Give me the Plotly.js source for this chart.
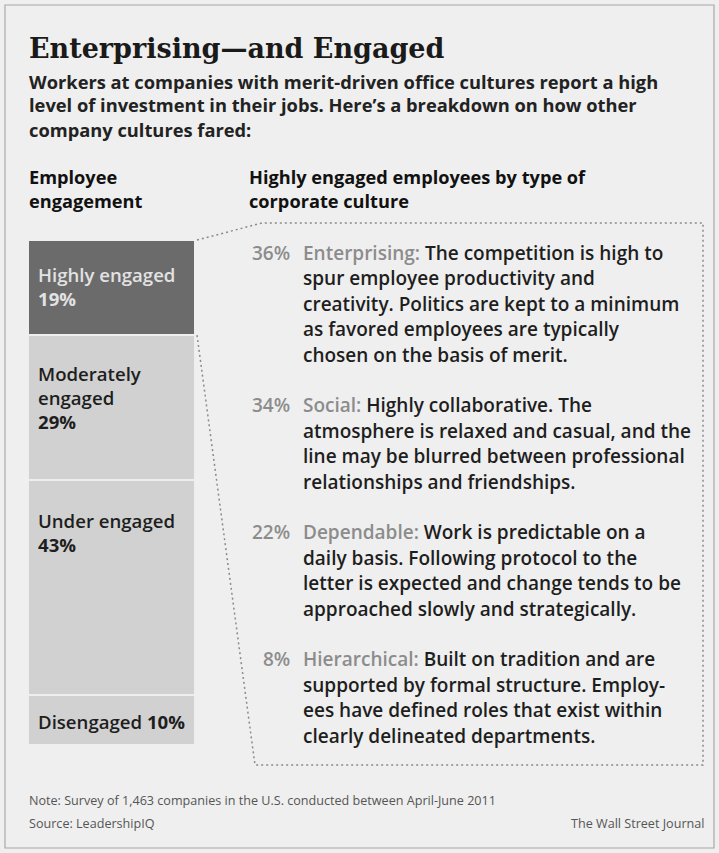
<!DOCTYPE html>
<html>
<head>
<meta charset="utf-8">
<script src="https://cdn.plot.ly/plotly-3.0.1.min.js"></script>
<style>
  html, body { margin: 0; padding: 0; background: #efefef; }
  #chart { width: 719px; height: 853px; }
</style>
</head>
<body>
<div id="chart"></div>
<script>
// ---------- data ----------
const engagementLevels = ['Highly engaged', 'Moderately engaged', 'Under engaged', 'Disengaged'];
const engagementShares = [19, 29, 43, 10];
const engagementLabelLines = [
  ['Highly engaged'],
  ['Moderately', 'engaged'],
  ['Under engaged'],
  ['Disengaged']
];
const cultureTypes = ['Enterprising', 'Social', 'Dependable', 'Hierarchical'];
const cultureShares = [36, 34, 22, 8];
const cultureDescriptions = [
  ['The competition is high to', 'spur employee productivity and', 'creativity. Politics are kept to a minimum', 'as favored employees are typically', 'chosen on the basis of merit.'],
  ['Highly collaborative. The', 'atmosphere is relaxed and casual, and the', 'line may be blurred between professional', 'relationships and friendships.'],
  ['Work is predictable on a', 'daily basis. Following protocol to the', 'letter is expected and change tends to be', 'approached slowly and strategically.'],
  ['Built on tradition and are', 'supported by formal structure. Employ-', 'ees have defined roles that exist within', 'clearly delineated departments.']
];
const titleText = 'Enterprising\u2014and Engaged';
const subtitleLines = [
  'Workers at companies with merit-driven office cultures report a high',
  'level of investment in their jobs. Here\u2019s a breakdown on how other',
  'company cultures fared:'
];
const leftHeadingLines = ['Employee', 'engagement'];
const rightHeadingLines = ['Highly engaged employees by type of', 'corporate culture'];
const noteText = 'Note: Survey of 1,463 companies in the U.S. conducted between April-June 2011';
const sourceText = 'Source: LeadershipIQ';
const creditText = 'The Wall Street Journal';

// ---------- layout helpers ----------
const W = 719, H = 853;
const px = x => x / W;
const py = y => 1 - y / H;
const SANS = 'Open Sans, Liberation Sans, sans-serif';
const total = engagementShares.reduce((a, b) => a + b, 0);

const traces = engagementLevels.map((lvl, i) => ({
  type: 'bar',
  x: [0],
  y: [engagementShares[i]],
  name: lvl,
  width: 1,
  marker: { color: i === 0 ? '#6b6b6b' : '#d1d1d1', line: { color: '#eeeeee', width: 1.5 } },
  hoverinfo: 'skip',
  showlegend: false
}));

const annotations = [];
function txt(x, y, text, opts) {
  annotations.push(Object.assign({
    xref: 'paper', yref: 'paper', x: px(x), y: py(y), text: text,
    showarrow: false, xanchor: 'left', yanchor: 'middle', align: 'left',
    font: { family: SANS, size: 19, color: '#1e1e1e', weight: 600 }
  }, opts || {}));
}

// title & subtitle
txt(27, 48, titleText, { font: { family: 'DejaVu Serif, Liberation Serif, serif', size: 27, color: '#1a1a1a', weight: 700 } });
subtitleLines.forEach((l, i) => txt(27, 81 + 24 * i, l, { font: { family: SANS, size: 18.3, color: '#222', weight: 700 } }));
leftHeadingLines.forEach((l, i) => txt(27, 177 + 24 * i, l, { font: { family: SANS, size: 18.2, color: '#111', weight: 700 } }));
rightHeadingLines.forEach((l, i) => txt(247, 177 + 24 * i, l, { font: { family: SANS, size: 18.2, color: '#111', weight: 700 } }));

// bar labels
const labelShift = [-20, -24, -26, -12];
let base = 0;
engagementLevels.forEach((lvl, i) => {
  const lines = engagementLabelLines[i].slice();
  const pct = '<b>' + engagementShares[i] + '%</b>';
  if (i === 3) lines[0] = lines[0] + ' ' + pct; else lines.push(pct);
  annotations.push({
    xref: 'x', yref: 'y', x: -0.5, y: base, xanchor: 'left', yanchor: 'top',
    xshift: 8, yshift: labelShift[i], align: 'left', showarrow: false,
    text: lines.join('<br>'),
    font: { family: SANS, size: 18.6, color: i === 0 ? '#e2e2e2' : '#1e1e1e', weight: 600 }
  });
  base += engagementShares[i];
});

// right column
let row = 0;
cultureTypes.forEach((ct, i) => {
  const y0 = 253 + 25.4 * row;
  txt(292, y0, cultureShares[i] + '%', { xanchor: 'right', font: { family: SANS, size: 19, color: '#8c8c8c', weight: 600 } });
  cultureDescriptions[i].forEach((l, j) => {
    const t = j === 0 ? '<span style="color:#8c8c8c">' + ct + ':</span> ' + l : l;
    txt(301, 253 + 25.4 * row, t);
    row++;
  });
  row++;
});

// footer
txt(27, 800, noteText, { font: { family: SANS, size: 12.6, color: '#555', weight: 400 } });
txt(27, 823, sourceText, { font: { family: SANS, size: 12.6, color: '#555', weight: 400 } });
txt(706, 823, creditText, { xanchor: 'right', font: { family: SANS, size: 12.6, color: '#555', weight: 400 } });

// dotted callout box
const dot = { color: '#8a8a8a', width: 1.5, dash: '2px,3px' };
const pts = [[197, 240], [262, 223], [703, 223], [703, 765], [255, 765], [197, 335]];
const path = pts.map((p, k) => (k === 0 ? 'M' : 'L') + px(p[0]) + ',' + py(p[1])).join(' ');
const shapes = [
  { type: 'rect', xref: 'paper', yref: 'paper', x0: px(5), x1: px(714), y0: py(848), y1: py(5),
    line: { color: '#a8a8a8', width: 1.2 }, fillcolor: 'rgba(0,0,0,0)', layer: 'below' },
  { type: 'path', xref: 'paper', yref: 'paper', path: path, line: dot }
];

const layout = {
  width: W, height: H,
  margin: { l: 0, r: 0, t: 0, b: 0 },
  paper_bgcolor: '#efefef', plot_bgcolor: 'rgba(0,0,0,0)',
  barmode: 'stack', bargap: 0,
  xaxis: { domain: [px(28), px(195)], range: [-0.5, 0.5], visible: false, fixedrange: true },
  yaxis: { domain: [py(745), py(240)], range: [total, 0], visible: false, fixedrange: true },
  annotations: annotations,
  shapes: shapes,
  showlegend: false
};

Plotly.newPlot('chart', traces, layout, { displayModeBar: false, staticPlot: true });
</script>
</body>
</html>
